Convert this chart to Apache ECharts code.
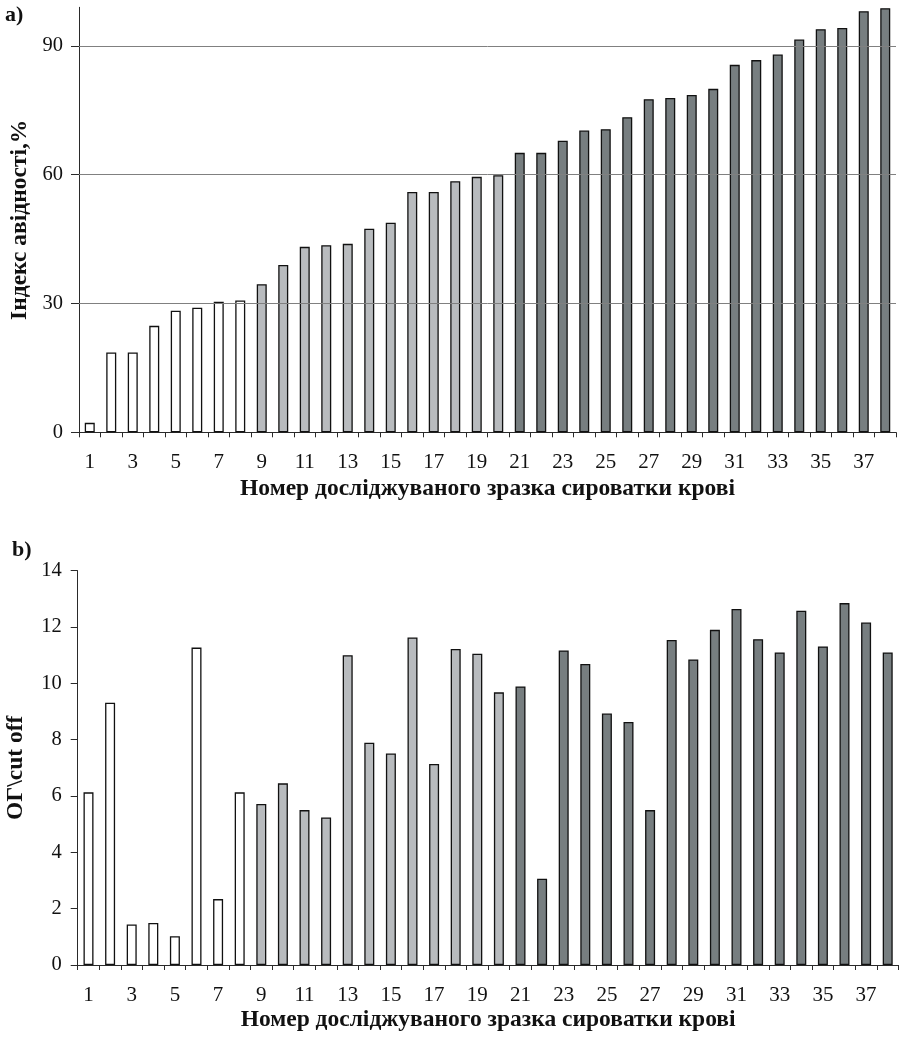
<!DOCTYPE html>
<html>
<head>
<meta charset="utf-8">
<script src="https://cdn.jsdelivr.net/npm/echarts@6/dist/echarts.min.js"></script>
<style>
html,body{margin:0;padding:0;background:#fff;}
#c{width:899px;height:1038px;}
</style>
</head>
<body>
<div id="c"></div>
<script>
const categories = ['1','2','3','4','5','6','7','8','9','10','11','12','13','14','15','16','17','18','19','20','21','22','23','24','25','26','27','28','29','30','31','32','33','34','35','36','37','38'];
const avidityIndex = [2.2, 18.6, 18.6, 24.8, 28.3, 29.0, 30.4, 30.7, 34.5, 39.0, 43.2, 43.6, 43.9, 47.4, 48.8, 56.0, 56.0, 58.5, 59.5, 59.9, 65.1, 65.1, 67.9, 70.3, 70.6, 73.4, 77.6, 77.9, 78.6, 80.0, 85.6, 86.7, 88.0, 91.5, 93.9, 94.2, 98.1, 98.8];
const odRatio = [6.13, 9.31, 1.44, 1.49, 1.02, 11.27, 2.34, 6.13, 5.72, 6.45, 5.50, 5.24, 11.0, 7.89, 7.51, 11.63, 7.14, 11.22, 11.05, 9.68, 9.89, 3.06, 11.17, 10.69, 8.93, 8.63, 5.50, 11.54, 10.85, 11.90, 12.64, 11.57, 11.10, 12.58, 11.31, 12.85, 12.16, 11.10];
const sampleGroup = [0,0,0,0,0,0,0,0,1,1,1,1,1,1,1,1,1,1,1,1,2,2,2,2,2,2,2,2,2,2,2,2,2,2,2,2,2,2];
const groupColors = ['#ffffff', '#b8bbbe', '#777e80'];
const topTicks = [0, 30, 60, 90];
const topGridLines = [30, 60, 90];
const xTitle = 'Номер досліджуваного зразка сироватки крові';
const yTitleTop = 'Індекс авідності,%';
const yTitleBottom = 'ОГ\\cut off';

const FONT = 'Liberation Serif';
const chart = echarts.init(document.getElementById('c'), null, {renderer: 'canvas'});

function colored(values) {
  return values.map((v, i) => ({value: v, itemStyle: {color: groupColors[sampleGroup[i]]}}));
}

const xAxisCommon = {
  type: 'category',
  data: categories,
  boundaryGap: true,
  axisLine: {lineStyle: {color: '#2a2a2a', width: 1}},
  axisTick: {show: true, interval: 0, length: 5, lineStyle: {color: '#2a2a2a'}},
  axisLabel: {interval: 1, fontFamily: FONT, fontSize: 21, color: '#111', margin: 20},
  splitLine: {show: false},
  name: xTitle,
  nameLocation: 'middle',
  nameTextStyle: {fontFamily: FONT, fontSize: 23.5, fontWeight: 'bold', color: '#111'}
};

const option = {
  animation: false,
  backgroundColor: '#fff',
  graphic: [
    {type: 'text', left: 5, top: 4, style: {text: 'a)', font: 'bold 22px "Liberation Serif"', fill: '#111'}},
    {type: 'text', left: 12, top: 539, style: {text: 'b)', font: 'bold 22px "Liberation Serif"', fill: '#111'}}
  ],
  grid: [
    {left: 79, right: 3, top: 7.3, height: 425, containLabel: false, outerBoundsMode: 'none'},
    {left: 77.7, right: 0.5, top: 570.7, height: 394.3, containLabel: false, outerBoundsMode: 'none'}
  ],
  xAxis: [
    Object.assign({}, xAxisCommon, {gridIndex: 0, nameGap: 45}),
    Object.assign({}, xAxisCommon, {gridIndex: 1, nameGap: 43})
  ],
  yAxis: [
    {
      type: 'value', gridIndex: 0, min: 0, max: 99, interval: 30,
      axisLine: {show: true, lineStyle: {color: '#2a2a2a'}},
      axisTick: {show: true, length: 8, customValues: topTicks, lineStyle: {color: '#2a2a2a'}},
      axisLabel: {customValues: topTicks, fontFamily: FONT, fontSize: 20.5, color: '#111', margin: 16},
      splitLine: {show: false},
      name: yTitleTop, nameLocation: 'middle', nameRotate: 90, nameGap: 45,
      nameTextStyle: {fontFamily: FONT, fontSize: 23.5, fontWeight: 'bold', color: '#111'}
    },
    {
      type: 'value', gridIndex: 1, min: 0, max: 14, interval: 2,
      axisLine: {show: true, lineStyle: {color: '#2a2a2a'}},
      axisTick: {show: true, length: 7, lineStyle: {color: '#2a2a2a'}},
      axisLabel: {fontFamily: FONT, fontSize: 20.5, color: '#111', margin: 16},
      splitLine: {show: false},
      name: yTitleBottom, nameLocation: 'middle', nameRotate: 90, nameGap: 50,
      nameTextStyle: {fontFamily: FONT, fontSize: 23.5, fontWeight: 'bold', color: '#111'}
    }
  ],
  series: [
    {
      type: 'line', xAxisIndex: 0, yAxisIndex: 0, data: [], z: 1, silent: true,
      markLine: {
        silent: true, symbol: 'none', label: {show: false},
        lineStyle: {color: '#808080', type: 'solid', width: 1},
        data: topGridLines.map(v => ({yAxis: v}))
      }
    },
    {
      type: 'bar', xAxisIndex: 0, yAxisIndex: 0, z: 3, barWidth: 10,
      itemStyle: {borderColor: '#111', borderWidth: 1.3},
      data: colored(avidityIndex)
    },
    {
      type: 'bar', xAxisIndex: 1, yAxisIndex: 1, z: 3, barWidth: 10,
      itemStyle: {borderColor: '#111', borderWidth: 1.3},
      data: colored(odRatio)
    }
  ]
};
chart.setOption(option);
</script>
</body>
</html>
